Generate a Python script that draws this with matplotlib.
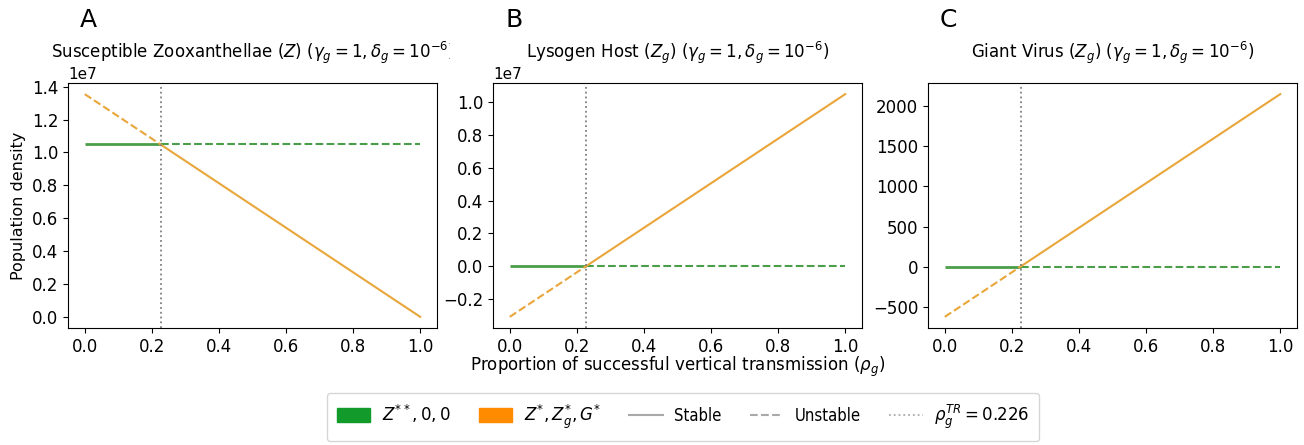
import matplotlib
matplotlib.use("Agg")
import matplotlib.pyplot as plt
from matplotlib.patches import Patch
from matplotlib.lines import Line2D
from matplotlib.transforms import Bbox, TransformedBbox
from matplotlib.font_manager import FontProperties

# Data
rho = [0.0, 1.0]
rho_tr = 0.226
titles = [r"Susceptible Zooxanthellae $(Z)$ $(\gamma_g = 1, \delta_g = 10^{-6})$",
          r"Lysogen Host $(Z_g)$ $(\gamma_g = 1, \delta_g = 10^{-6})$",
          r"Giant Virus $(Z_g)$ $(\gamma_g = 1, \delta_g = 10^{-6})$"]
letters = ["A", "B", "C"]
green_vals = [1.05e7, 0.0, 0.0]            # Z**,0,0 equilibrium (constant)
orange_start = [1.355e7, -0.31e7, -625.0]  # Z*,Zg*,G* at rho=0
orange_end = [0.0, 1.05e7, 2150.0]         # at rho=1

GREEN_LINE = '#4a9e4a'
ORANGE_LINE = '#e9a63a'
GREEN_PATCH = '#129a2a'
ORANGE_PATCH = '#ff8c00'

fig = plt.figure(figsize=(13.04, 4.45), dpi=100)
W, H = 1304, 445
lefts = [68, 493, 928]
width = 369
top, bottom = 83, 328
axes = []
for i in range(3):
    ax = fig.add_axes([lefts[i] / W, 1 - bottom / H, width / W, (bottom - top) / H])
    axes.append(ax)
    g = green_vals[i]
    s, e = orange_start[i], orange_end[i]
    o_tr = s + (e - s) * (rho_tr - rho[0]) / (rho[1] - rho[0])
    ax.plot([rho[0], rho_tr], [g, g], color=GREEN_LINE, lw=2.0, solid_capstyle='butt')
    ax.plot([rho_tr, rho[1]], [g, g], color=GREEN_LINE, lw=1.5, ls='--')
    ax.plot([rho[0], rho_tr], [s, o_tr], color=ORANGE_LINE, lw=1.5, ls='--')
    ax.plot([rho_tr, rho[1]], [o_tr, e], color=ORANGE_LINE, lw=1.5)
    ax.axvline(rho_tr, color='gray', ls=':', lw=1.3)
    ax.tick_params(labelsize=12)
    ax.yaxis.get_offset_text().set_fontsize(11)
    ax.set_xticks([0.0, 0.2, 0.4, 0.6, 0.8, 1.0])
    t = ax.set_title(titles[i], fontsize=12, pad=18)
    if i == 0:
        t.set_clip_box(TransformedBbox(Bbox([[0, 0], [450 / W, 1]]), fig.transFigure))
        t.set_clip_on(True)
    fig.text((lefts[i] + 12) / W, 1 - 20 / H, letters[i], fontsize=18, va='center', ha='left')

axes[0].set_ylabel("Population density", fontsize=11.5)
axes[0].set_yticks([0.0, 0.2e7, 0.4e7, 0.6e7, 0.8e7, 1.0e7, 1.2e7, 1.4e7])
axes[1].set_yticks([-0.2e7, 0.0, 0.2e7, 0.4e7, 0.6e7, 0.8e7, 1.0e7])
axes[2].set_yticks([-500, 0, 500, 1000, 1500, 2000])
fig.text(678 / W, 1 - 367 / H, r"Proportion of successful vertical transmission $(\rho_g)$",
         fontsize=12, ha='center', va='center')

handles = [Patch(color=GREEN_PATCH), Patch(color=ORANGE_PATCH),
           Line2D([], [], color='darkgray', lw=1.5),
           Line2D([], [], color='darkgray', lw=1.5, ls='--'),
           Line2D([], [], color='darkgray', lw=1.3, ls=':')]
labels = [r"$Z^{**}, 0, 0$", r"$Z^{*}, Z_g^{*}, G^{*}$", "Stable", "Unstable",
          r"$\rho_g^{TR} = 0.226$"]
fp = FontProperties(family='DejaVu Sans', size=12, stretch='condensed')
fig.legend(handles, labels, loc='center', bbox_to_anchor=(683 / W, 1 - 417 / H),
           ncol=5, prop=fp, frameon=True, handlelength=2.0, handleheight=0.9,
           handletextpad=0.7, columnspacing=1.7, borderpad=0.6)

fig.savefig("out.png", dpi=100)
